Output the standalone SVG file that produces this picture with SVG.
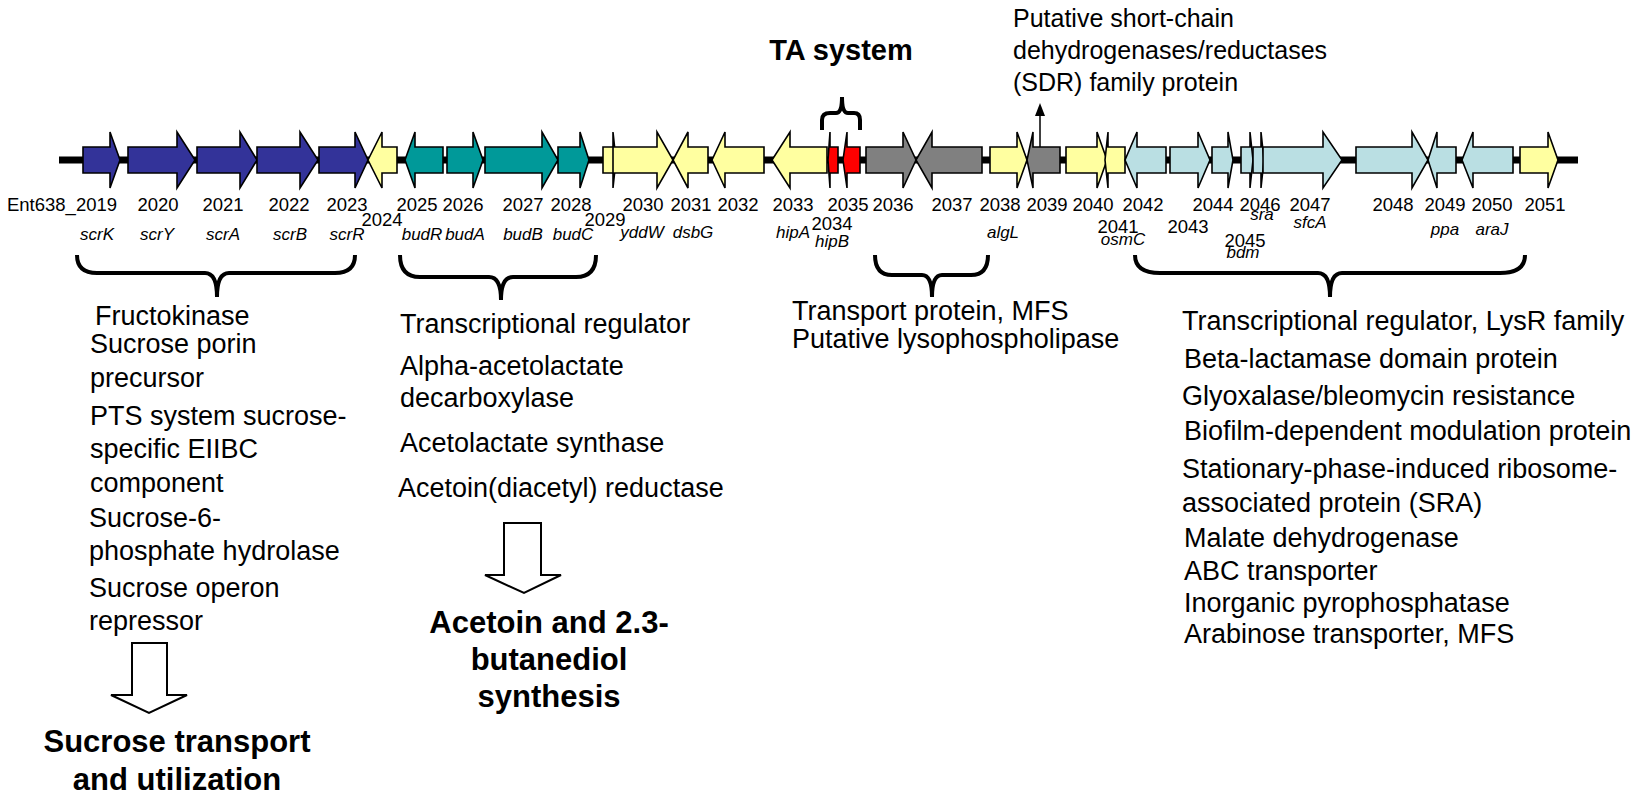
<svg xmlns="http://www.w3.org/2000/svg" width="1645" height="800" viewBox="0 0 1645 800">
<style>
.g{stroke:#000;stroke-width:1.6;stroke-linejoin:miter}
.b{fill:#333399}.t{fill:#009999}.y{fill:#FFFFA0}.r{fill:#FF0000}.k{fill:#808080}.l{fill:#BADFE3}
.n{font-family:"Liberation Sans",Arial,sans-serif;font-size:18.5px;fill:#000;text-anchor:middle}
.i{font-family:"Liberation Sans",Arial,sans-serif;font-size:17px;font-style:italic;fill:#000;text-anchor:middle}
.d{font-family:"Liberation Sans",Arial,sans-serif;font-size:27px;fill:#000}
.h{font-family:"Liberation Sans",Arial,sans-serif;font-size:31px;font-weight:bold;fill:#000;text-anchor:middle}
.br{fill:none;stroke:#000;stroke-width:4}
.ha{fill:#fff;stroke:#000;stroke-width:2}
</style>
<rect width="1645" height="800" fill="#fff"/>
<g id="connectors">
<line x1="59" y1="160" x2="1578" y2="160" stroke="#000" stroke-width="7"/>
<line x1="1040" y1="147" x2="1040" y2="112" stroke="#000" stroke-width="1.5"/>
<polygon points="1035,116 1040,103 1045,116" fill="#000"/>
<path class="br" d="M77,255 Q77,273 97,273 L205,273 Q217,273 217,297 Q217,273 229,273 L335,273 Q355,273 355,255"/>
<path class="br" d="M400,255 Q400,277 420,277 L489,277 Q501,277 501,300 Q501,277 513,277 L576,277 Q596,277 596,255"/>
<path class="br" d="M875,255 Q875,275 892,275 L922,275 Q932,275 932,297 Q932,275 942,275 L971,275 Q988,275 988,255"/>
<path class="br" d="M1135,255 Q1135,273 1160,273 L1318,273 Q1330,273 1330,297 Q1330,273 1342,273 L1500,273 Q1525,273 1525,255"/>
<path class="br" d="M822,130 L822,120 Q822,113 830,113 L836,113 Q842,113 842,97 Q842,113 848,113 L854,113 Q860,113 860,120 L860,130"/>
<polygon class="ha" points="132,643 167,643 167,695 187,695 149,713 111,695 132,695"/>
<polygon class="ha" points="504,523 541,523 541,575 561,575 524,593 485,575 504,575"/>
</g>
<g id="genes">
<polygon id="g2019" class="g b" points="83,147 110,147 110,132 120,160 110,188 110,173 83,173"/>
<polygon id="g2020" class="g b" points="128,147 177,147 177,132 195,160 177,188 177,173 128,173"/>
<polygon id="g2021" class="g b" points="197,147 240,147 240,132 257,160 240,188 240,173 197,173"/>
<polygon id="g2022" class="g b" points="257,147 300,147 300,132 318,160 300,188 300,173 257,173"/>
<polygon id="g2023" class="g b" points="319,147 355,147 355,132 368,160 355,188 355,173 319,173"/>
<polygon id="g2024" class="g y" points="397,147 382,147 382,132 368,160 382,188 382,173 397,173"/>
<polygon id="g2025" class="g t" points="443,147 415,147 415,132 405,160 415,188 415,173 443,173"/>
<polygon id="g2026" class="g t" points="447,147 473,147 473,132 483,160 473,188 473,173 447,173"/>
<polygon id="g2027" class="g t" points="485,147 542,147 542,132 558,160 542,188 542,173 485,173"/>
<polygon id="g2028" class="g t" points="558,147 580,147 580,132 589,160 580,188 580,173 558,173"/>
<polygon id="g2029" class="g y" points="603,147 613,147 613,132 616,160 613,188 613,173 603,173"/>
<polygon id="g2030" class="g y" points="613,147 657,147 657,132 673,160 657,188 657,173 613,173"/>
<polygon id="g2031" class="g y" points="708,147 688,147 688,132 673,160 688,188 688,173 708,173"/>
<polygon id="g2032" class="g y" points="764,147 725,147 725,132 712,160 725,188 725,173 764,173"/>
<polygon id="g2033" class="g y" points="827,147 790,147 790,132 772,160 790,188 790,173 827,173"/>
<polygon id="g2034" class="g r" points="838,147 830,147 830,132 828,160 830,188 830,173 838,173"/>
<polygon id="g2035" class="g r" points="860,147 847,147 847,132 843,160 847,188 847,173 860,173"/>
<polygon id="g2036" class="g k" points="866,147 903,147 903,132 916,160 903,188 903,173 866,173"/>
<polygon id="g2037" class="g k" points="982,147 932,147 932,132 916,160 932,188 932,173 982,173"/>
<polygon id="g2038" class="g y" points="990,147 1017,147 1017,132 1027,160 1017,188 1017,173 990,173"/>
<polygon id="g2039" class="g k" points="1060,147 1033,147 1033,132 1027,160 1033,188 1033,173 1060,173"/>
<polygon id="g2040" class="g y" points="1066,147 1097,147 1097,132 1107,160 1097,188 1097,173 1066,173"/>
<polygon id="g2041" class="g y" points="1125,147 1108,147 1108,132 1105,160 1108,188 1108,173 1125,173"/>
<polygon id="g2042" class="g l" points="1166,147 1137,147 1137,132 1125,160 1137,188 1137,173 1166,173"/>
<polygon id="g2043" class="g l" points="1170,147 1198,147 1198,132 1210,160 1198,188 1198,173 1170,173"/>
<polygon id="g2044" class="g l" points="1212,147 1228,147 1228,132 1233,160 1228,188 1228,173 1212,173"/>
<polygon id="g2045" class="g l" points="1241,147 1250,147 1250,132 1253,160 1250,188 1250,173 1241,173"/>
<polygon id="g2046" class="g l" points="1253,147 1261,147 1261,132 1264,160 1261,188 1261,173 1253,173"/>
<polygon id="g2047" class="g l" points="1263,147 1323,147 1323,132 1342,160 1323,188 1323,173 1263,173"/>
<polygon id="g2048" class="g l" points="1356,147 1412,147 1412,132 1428,160 1412,188 1412,173 1356,173"/>
<polygon id="g2049" class="g l" points="1456,147 1437,147 1437,132 1428,160 1437,188 1437,173 1456,173"/>
<polygon id="g2050" class="g l" points="1513,147 1473,147 1473,132 1462,160 1473,188 1473,173 1513,173"/>
<polygon id="g2051" class="g y" points="1520,147 1548,147 1548,132 1558,160 1548,188 1548,173 1520,173"/>
</g>
<g id="numbers">
<text class="n" x="62" y="211">Ent638_2019</text>
<text class="n" x="158" y="211">2020</text><text class="n" x="223" y="211">2021</text><text class="n" x="289" y="211">2022</text><text class="n" x="347" y="211">2023</text>
<text class="n" x="382" y="226">2024</text><text class="n" x="417" y="211">2025</text><text class="n" x="463" y="211">2026</text><text class="n" x="523" y="211">2027</text><text class="n" x="571" y="211">2028</text>
<text class="n" x="605" y="226">2029</text><text class="n" x="643" y="211">2030</text><text class="n" x="691" y="211">2031</text><text class="n" x="738" y="211">2032</text><text class="n" x="793" y="211">2033</text>
<text class="n" x="832" y="230">2034</text><text class="n" x="848" y="211">2035</text><text class="n" x="893" y="211">2036</text><text class="n" x="952" y="211">2037</text><text class="n" x="1000" y="211">2038</text><text class="n" x="1047" y="211">2039</text>
<text class="n" x="1093" y="211">2040</text><text class="n" x="1118" y="233">2041</text><text class="n" x="1143" y="211">2042</text><text class="n" x="1188" y="233">2043</text><text class="n" x="1213" y="211">2044</text>
<text class="n" x="1245" y="247">2045</text><text class="n" x="1260" y="211">2046</text><text class="n" x="1310" y="211">2047</text><text class="n" x="1393" y="211">2048</text><text class="n" x="1445" y="211">2049</text><text class="n" x="1492" y="211">2050</text><text class="n" x="1545" y="211">2051</text>
</g>
<g id="names">
<text class="i" x="97" y="240">scrK</text><text class="i" x="157" y="240">scrY</text><text class="i" x="223" y="240">scrA</text><text class="i" x="290" y="240">scrB</text><text class="i" x="347" y="240">scrR</text>
<text class="i" x="422" y="240">budR</text><text class="i" x="465" y="240">budA</text><text class="i" x="523" y="240">budB</text><text class="i" x="573" y="240">budC</text>
<text class="i" x="642" y="238">yddW</text><text class="i" x="693" y="238">dsbG</text><text class="i" x="793" y="238">hipA</text><text class="i" x="832" y="247">hipB</text><text class="i" x="1003" y="238">algL</text>
<text class="i" x="1123" y="245">osmC</text><text class="i" x="1262" y="220">sra</text><text class="i" x="1243" y="258">bdm</text><text class="i" x="1310" y="228">sfcA</text><text class="i" x="1445" y="235">ppa</text><text class="i" x="1492" y="235">araJ</text>
</g>
<g id="top-labels">
<text class="h" x="841" y="60" style="font-size:29px">TA system</text>
<text class="d" x="1013" y="27" style="font-size:25px">Putative short-chain</text>
<text class="d" x="1013" y="59" style="font-size:25px">dehydrogenases/reductases</text>
<text class="d" x="1013" y="91" style="font-size:25px">(SDR) family protein</text>
</g>
<g id="sucrose">
<text class="d" x="95" y="325">Fructokinase</text>
<text class="d" x="90" y="353">Sucrose porin</text><text class="d" x="90" y="387">precursor</text>
<text class="d" x="90" y="425">PTS system sucrose-</text><text class="d" x="90" y="458">specific EIIBC</text><text class="d" x="90" y="492">component</text>
<text class="d" x="89" y="527">Sucrose-6-</text><text class="d" x="89" y="560">phosphate hydrolase</text>
<text class="d" x="89" y="597">Sucrose operon</text><text class="d" x="89" y="630">repressor</text>
<text class="h" x="177" y="752">Sucrose transport</text><text class="h" x="177" y="790">and utilization</text>
</g>
<g id="butanediol">
<text class="d" x="400" y="333">Transcriptional regulator</text>
<text class="d" x="400" y="375">Alpha-acetolactate</text><text class="d" x="400" y="407">decarboxylase</text>
<text class="d" x="400" y="452">Acetolactate synthase</text>
<text class="d" x="398" y="497">Acetoin(diacetyl) reductase</text>
<text class="h" x="549" y="633">Acetoin and 2.3-</text><text class="h" x="549" y="670">butanediol</text><text class="h" x="549" y="707">synthesis</text>
</g>
<g id="mfs">
<text class="d" x="792" y="320">Transport protein, MFS</text>
<text class="d" x="792" y="348">Putative lysophospholipase</text>
</g>
<g id="cluster">
<text class="d" x="1182" y="330">Transcriptional regulator, LysR family</text>
<text class="d" x="1184" y="368">Beta-lactamase domain protein</text>
<text class="d" x="1182" y="405">Glyoxalase/bleomycin resistance</text>
<text class="d" x="1184" y="440">Biofilm-dependent modulation protein</text>
<text class="d" x="1182" y="478">Stationary-phase-induced ribosome-</text>
<text class="d" x="1182" y="512">associated protein (SRA)</text>
<text class="d" x="1184" y="547">Malate dehydrogenase</text>
<text class="d" x="1184" y="580">ABC transporter</text>
<text class="d" x="1184" y="612">Inorganic pyrophosphatase</text>
<text class="d" x="1184" y="643">Arabinose transporter, MFS</text>
</g>
</svg>
